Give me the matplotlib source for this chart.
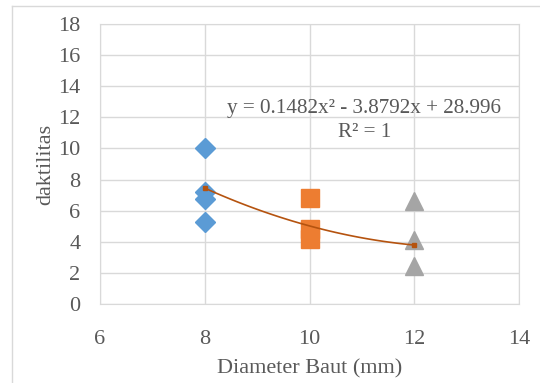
"""Scatter of daktilitas vs bolt diameter with polynomial trendline."""

import matplotlib
import matplotlib.pyplot as plt
import numpy as np
from matplotlib.lines import Line2D

matplotlib.use("Agg")

plt.rcParams["font.family"] = ["Liberation Serif", "DejaVu Serif"]

# data
d8_x = [8, 8, 8, 8]
d8_y = [10.0, 7.2, 6.75, 5.25]
d10_x = [10, 10, 10]
d10_y = [6.8, 4.8, 4.2]
d12_x = [12, 12, 12]
d12_y = [6.65, 4.1, 2.45]
trend_x = [8, 10, 12]
trend_y = [7.45, 5.02, 3.79]

x_ticks = [6, 8, 10, 12, 14]
y_ticks = [0, 2, 4, 6, 8, 10, 12, 14, 16, 18]

TEXT = "#595959"
GRID = "#D9D9D9"

fig = plt.figure(figsize=(5.4, 3.83), dpi=100)
ax = fig.add_axes([100 / 540, 1 - 304 / 383, 419 / 540, 280 / 383])

ax.plot(d8_x, d8_y, ls="none", marker="D", ms=10, color="#5B9BD5", zorder=3)
ax.plot(d10_x, d10_y, ls="none", marker="s", ms=12.5, color="#ED7D31", zorder=3)
ax.plot(d12_x, d12_y, ls="none", marker="^", ms=13, color="#A5A5A5", zorder=3)

# polynomial trend (order 2) through the mean series
coef = np.polyfit(trend_x, trend_y, 2)
xs = np.linspace(min(trend_x), max(trend_x), 100)
ax.plot(xs, np.polyval(coef, xs), color="#B5530F", lw=1.2, zorder=4)
ax.plot(trend_x[::2], trend_y[::2], ls="none", marker="s", ms=3.5,
        color="#B5530F", zorder=4)

ax.text(11.05, 12.6, "y = 0.1482x² - 3.8792x + 28.996", ha="center",
        va="center", fontsize=15.2, color=TEXT)
ax.text(11.05, 11.0, "R² = 1", ha="center", va="center", fontsize=15.2,
        color=TEXT)

ax.set_xlim(6, 14)
ax.set_ylim(0, 18)
ax.set_xticks(x_ticks)
ax.set_yticks(y_ticks)
ax.grid(True, color=GRID, lw=1.0)
ax.set_axisbelow(True)
for s in ax.spines.values():
    s.set_color(GRID)
ax.tick_params(length=0, labelsize=16, labelcolor=TEXT)
ax.tick_params(axis="x", pad=19)
ax.tick_params(axis="y", pad=14)
ax.set_xlabel("Diameter Baut (mm)", fontsize=16, color=TEXT, labelpad=7)
ax.set_ylabel("daktilitas", fontsize=16, color=TEXT, labelpad=2)

# chart border (cropped on right / bottom)
fig.add_artist(Line2D([12 / 540, 12 / 540], [0, 1 - 6 / 383],
                      transform=fig.transFigure, color=GRID, lw=1))
fig.add_artist(Line2D([12 / 540, 1], [1 - 6 / 383, 1 - 6 / 383],
                      transform=fig.transFigure, color=GRID, lw=1))

fig.savefig("out.png", dpi=100)
plt.close(fig)
